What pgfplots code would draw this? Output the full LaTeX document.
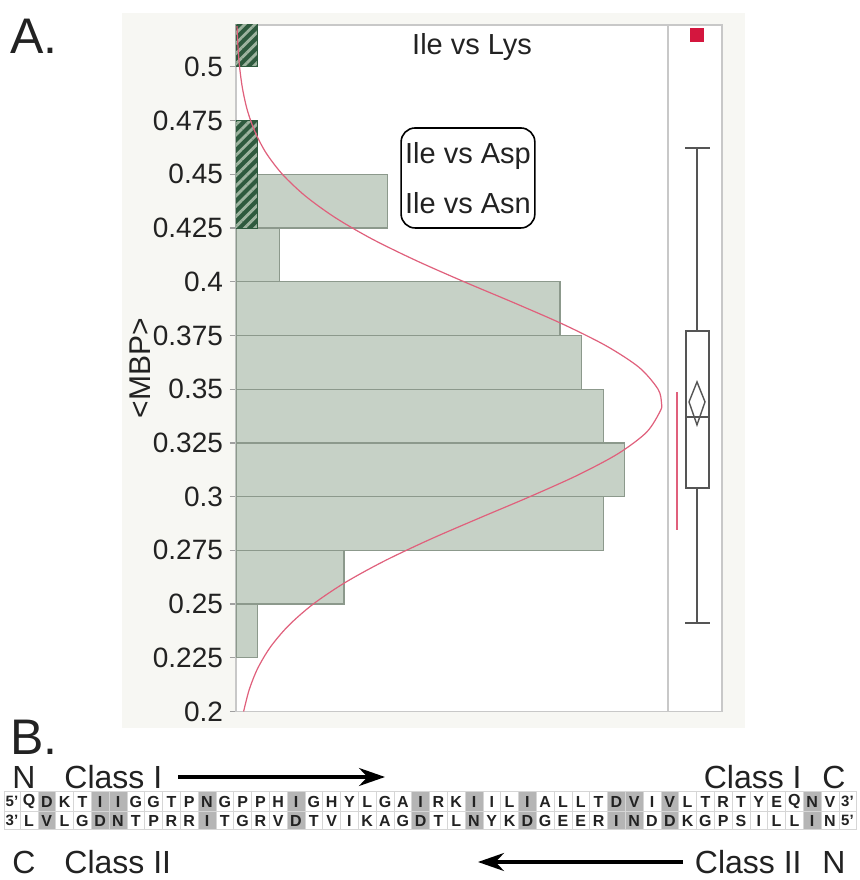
\documentclass[border=0pt]{standalone}
\usepackage{fontspec}
\setmainfont{Liberation Sans}
\usepackage{pgfplots}
\usepackage{pgfplotstable}
\pgfplotsset{compat=1.18}
\usetikzlibrary{patterns.meta,arrows.meta}

\definecolor{panelbg}{HTML}{F7F7F3}
\definecolor{barfill}{HTML}{C6D1C6}
\definecolor{baredge}{HTML}{8C998C}
\definecolor{hatchbg}{HTML}{2E5A3E}
\definecolor{hatchln}{HTML}{9DB39F}
\definecolor{curvecol}{HTML}{E0607C}
\definecolor{framecol}{HTML}{C8C8C8}
\definecolor{boxgray}{HTML}{555555}
\definecolor{outliercol}{HTML}{D4163E}
\definecolor{seqshade}{HTML}{B5B5B5}
\definecolor{seqgrid}{HTML}{D6D6D6}
\definecolor{txt}{HTML}{222222}

% histogram of <MBP>: bar length (count) and lower bin edge
\pgfplotstableread{
count lo
1  0.225
5  0.25
17 0.275
18 0.3
17 0.325
16 0.35
15 0.375
2  0.4
7  0.425
0  0.45
}\histdata

\begin{document}
\begin{tikzpicture}
\path[use as bounding box] (0,0) rectangle (429.5pt,440pt);

\begin{scope}[x=0.5pt,y=-0.5pt,yshift=440pt]
\fill[panelbg] (122,13) rectangle (745,728);
\end{scope}

\begin{axis}[at={(118pt,84.25pt)},anchor=south west,scale only axis,
  width=216pt,height=343.25pt,
  xmin=0,xmax=20,ymin=0.2,ymax=0.5195,
  axis line style={framecol,line width=0.6pt},
  axis background/.style={fill=white},
  xtick=\empty,
  ytick={0.2,0.225,0.25,0.275,0.3,0.325,0.35,0.375,0.4,0.425,0.45,0.475,0.5},
  yticklabels={0.2,0.225,0.25,0.275,0.3,0.325,0.35,0.375,0.4,0.425,0.45,0.475,0.5},
  ytick pos=left,tick align=outside,major tick length=3pt,
  ytick style={framecol!80!black,line width=0.6pt},
  yticklabel style={font=\fontsize{14}{17}\selectfont,text=txt},
  ylabel={<MBP>},
  every axis y label/.style={at={(axis description cs:-0.222,0.5)},rotate=90,anchor=center,
    font=\fontsize{15}{18}\selectfont,text=txt}]
\addplot[xbar interval,fill=barfill,draw=baredge,line width=0.6pt] table[x=count,y=lo]{\histdata};
\addplot[xbar interval,fill=hatchbg,draw=hatchbg,line width=0.5pt,
  postaction={pattern={Lines[angle=45,distance=3.6pt,line width=1.4pt]},pattern color=hatchln}]
  coordinates {(1,0.425) (1,0.475)};
\addplot[xbar interval,fill=hatchbg,draw=hatchbg,line width=0.5pt,
  postaction={pattern={Lines[angle=45,distance=3.6pt,line width=1.4pt]},pattern color=hatchln}]
  coordinates {(1,0.5) (1,0.525)};
\addplot[curvecol,line width=0.6pt,smooth,no marks] coordinates {
(0.353,0.200) (0.607,0.210) (1.001,0.220) (1.593,0.230) (2.435,0.240) (3.574,0.250)
(5.05,0.260) (6.86,0.270) (8.96,0.280) (11.26,0.290) (13.61,0.300) (15.82,0.310)
(17.69,0.320) (19.01,0.330) (19.65,0.340) (19.70,0.3435) (19.54,0.350) (18.68,0.360)
(17.17,0.370) (15.19,0.380) (12.92,0.390) (10.56,0.400) (8.31,0.410) (6.28,0.420)
(4.57,0.430) (3.20,0.440) (2.15,0.450) (1.39,0.460) (0.87,0.470) (0.52,0.480)
(0.30,0.490) (0.165,0.500) (0.088,0.510) (0.048,0.519)};
\node[font=\fontsize{14.5}{17}\selectfont,text=txt] at (axis cs:10.93,0.5093) {Ile vs Lys};
\node[draw=black,rounded corners=7pt,line width=0.8pt,align=center,
  font=\fontsize{14.5}{25}\selectfont,text=txt,minimum width=65pt,minimum height=50pt,inner sep=2pt]
  at (axis cs:10.74,0.4483) {Ile vs Asp\\Ile vs Asn};
\end{axis}

\begin{axis}[at={(334pt,84.25pt)},anchor=south west,scale only axis,
  width=27pt,height=343.25pt,
  xmin=668,xmax=722,ymin=0.2,ymax=0.5195,ticks=none,
  axis line style={framecol,line width=0.6pt},
  axis background/.style={fill=white}]
\addplot[boxgray,line width=0.7pt] coordinates {(697,0.4623) (697,0.3771)};
\addplot[boxgray,line width=0.7pt] coordinates {(697,0.3040) (697,0.2412)};
\addplot[boxgray,line width=0.9pt] coordinates {(685,0.4623) (710,0.4623)};
\addplot[boxgray,line width=0.9pt] coordinates {(685,0.2412) (710,0.2412)};
\addplot[boxgray,line width=0.7pt,fill=white] coordinates {(686,0.3040) (709,0.3040) (709,0.3771) (686,0.3771)} -- cycle;
\addplot[boxgray,line width=0.7pt] coordinates {(686,0.3371) (709,0.3371)};
\addplot[boxgray,line width=0.7pt] coordinates {(697,0.3534) (705,0.3441) (697,0.3334) (689,0.3441)} -- cycle;
\addplot[curvecol,line width=0.55pt] coordinates {(677,0.2845) (677,0.3487)};
\addplot[only marks,mark=square*,mark size=3.2pt,mark options={fill=outliercol,draw=outliercol}] coordinates {(696.5,0.5149)};
\end{axis}

\begin{scope}[x=0.5pt,y=-0.5pt,yshift=440pt,text=txt]
\node[anchor=west,font=\fontsize{25}{28}\selectfont,inner sep=0] at (10,36) {A.};
\node[anchor=west,font=\fontsize{25}{28}\selectfont,inner sep=0] at (10,737) {B.};
% labels above the sequence
\node[anchor=west,font=\fontsize{16}{19}\selectfont,inner sep=0] at (12,777) {N};
\node[anchor=west,font=\fontsize{16}{19}\selectfont,inner sep=0] at (64,777) {Class I};
\draw[line width=1.6pt,-{Stealth[length=13pt,width=9pt]}] (178,777) -- (385,777);
\node[anchor=east,font=\fontsize{16}{19}\selectfont,inner sep=0] at (802,777) {Class I};
\node[font=\fontsize{16}{19}\selectfont,inner sep=0] at (834,777) {C};
% labels below the sequence
\node[anchor=west,font=\fontsize{16}{19}\selectfont,inner sep=0] at (12,862) {C};
\node[anchor=west,font=\fontsize{16}{19}\selectfont,inner sep=0] at (64,862) {Class II};
\draw[line width=1.6pt,-{Stealth[length=13pt,width=9pt]}] (683,862) -- (478,862);
\node[anchor=east,font=\fontsize{16}{19}\selectfont,inner sep=0] at (802,862) {Class II};
\node[font=\fontsize{16}{19}\selectfont,inner sep=0] at (834,862) {N};
% sequence strip: column i is centred at 29+(i-1)*17.8
\fill[white] (4,792) rectangle (856,830);
\foreach \i in {2,5,6,11,16,23,26,29,34,35,37,45}
  \fill[seqshade] ({20.1+(\i-1)*17.8},792) rectangle ({20.1+\i*17.8},830);
\foreach \i in {0,...,46}
  \draw[seqgrid,line width=0.4pt] ({20.1+\i*17.8},792) -- ({20.1+\i*17.8},830);
\draw[seqgrid,line width=0.5pt] (4,792) rectangle (856,830);
\draw[seqgrid,line width=0.4pt] (4,811) -- (856,811);
\foreach \c [count=\i] in {Q,D,K,T,I,I,G,G,T,P,N,G,P,P,H,I,G,H,Y,L,G,A,I,R,K,I,I,L,I,A,L,L,T,D,V,I,V,L,T,R,T,Y,E,Q,N,V}
  \node[font=\bfseries\fontsize{8}{9}\selectfont,inner sep=0] at ({11.2+\i*17.8},801.5) {\c};
\foreach \c [count=\i] in {L,V,L,G,D,N,T,P,R,R,I,T,G,R,V,D,T,V,I,K,A,G,D,T,L,N,Y,K,D,G,E,E,R,I,N,D,D,K,G,P,S,I,L,L,I,N}
  \node[font=\bfseries\fontsize{8}{9}\selectfont,inner sep=0] at ({11.2+\i*17.8},820.5) {\c};
\node[font=\bfseries\fontsize{7.5}{9}\selectfont,inner sep=0] at (12,801.5) {5'};
\node[font=\bfseries\fontsize{7.5}{9}\selectfont,inner sep=0] at (12,820.5) {3'};
\node[font=\bfseries\fontsize{7.5}{9}\selectfont,inner sep=0] at (847.5,801.5) {3'};
\node[font=\bfseries\fontsize{7.5}{9}\selectfont,inner sep=0] at (847.5,820.5) {5'};
\end{scope}
\end{tikzpicture}
\end{document}
